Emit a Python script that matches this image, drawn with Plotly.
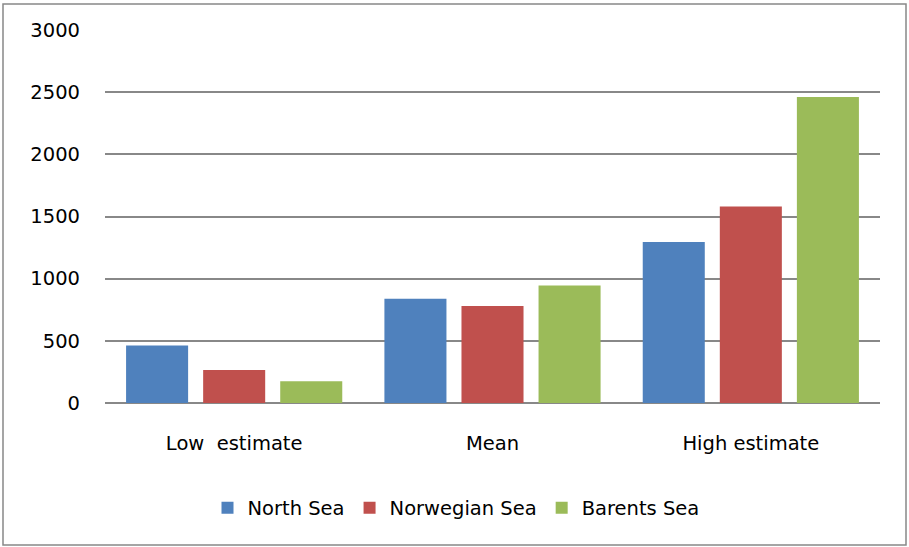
import plotly.graph_objects as go

categories = ["Low  estimate", "Mean", "High estimate"]
series_names = ["North Sea", "Norwegian Sea", "Barents Sea"]
north_sea = [463, 838, 1294]
norwegian_sea = [265, 780, 1580]
barents_sea = [174, 945, 2462]
colors = ["#4F81BD", "#C0504D", "#9BBB59"]

W, H = 909, 547
ml, mr, mt, mb = 105, 29, 30, 144

fig = go.Figure()
for name, vals, col in zip(series_names, [north_sea, norwegian_sea, barents_sea], colors):
    fig.add_trace(go.Bar(
        x=categories, y=vals, name=name,
        marker=dict(color=col, line=dict(width=0)),
    ))

font = dict(family="'DejaVu Sans', sans-serif", size=19.5, color="#000000")

fig.update_layout(
    width=W, height=H,
    margin=dict(l=ml, r=mr, t=mt, b=mb, pad=0),
    paper_bgcolor="white", plot_bgcolor="white",
    barmode="group", bargap=0.105, bargroupgap=0.195,
    font=font,
    showlegend=True,
    legend=dict(
        orientation="h", x=(456 - ml) / (W - ml - mr), xanchor="center",
        y=-(508 - (H - mb)) / (H - mt - mb), yanchor="middle",
        font=font, itemwidth=30, traceorder="normal",
    ),
    xaxis=dict(
        showgrid=False, showline=False, ticks="", ticklabelstandoff=26,
        tickfont=font,
    ),
    yaxis=dict(
        range=[0, 3000], tickvals=[0, 500, 1000, 1500, 2000, 2500, 3000],
        showgrid=True, gridcolor="#888888", gridwidth=1.5,
        zeroline=True, zerolinecolor="#888888", zerolinewidth=1.5,
        showline=False, ticks="", ticklabelstandoff=24, tickfont=font,
    ),
)

# outer chart border
pw, ph = W - ml - mr, H - mt - mb
fig.add_shape(
    type="rect", xref="paper", yref="paper",
    x0=(3 - ml) / pw, x1=(906 - ml) / pw,
    y0=-(545 - (H - mb)) / ph, y1=1 + (mt - 4) / ph,
    line=dict(color="#888888", width=1.5), fillcolor="rgba(0,0,0,0)",
    layer="below",
)

fig.write_html("out.html")
